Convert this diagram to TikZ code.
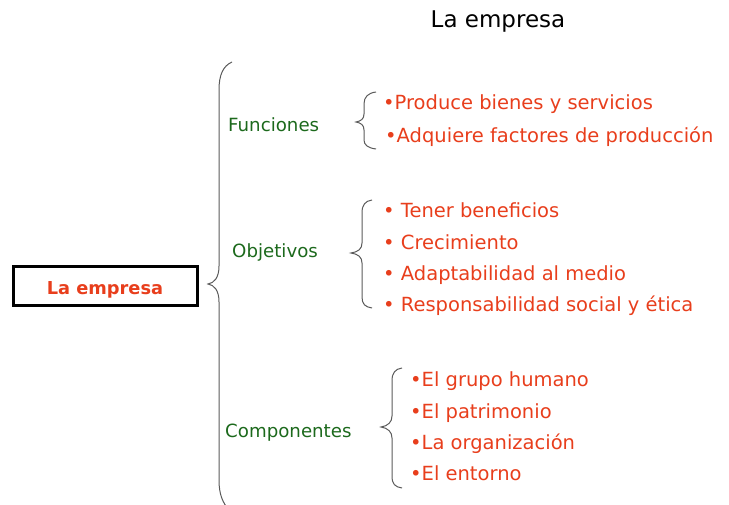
\documentclass[tikz,border=0pt]{standalone}
\usepackage{fontspec}
\setmainfont{DejaVu Sans}
\definecolor{itemred}{RGB}{232,62,28}
\definecolor{labgreen}{RGB}{28,105,28}
\definecolor{bracegray}{RGB}{90,90,90}
\begin{document}
\begin{tikzpicture}[x=1pt,y=-1pt,
  item/.style={anchor=base west,inner sep=0pt,text=itemred,font=\fontsize{19.5}{19.5}\selectfont},
  lab/.style={anchor=base west,inner sep=0pt,text=labgreen,font=\fontsize{18.2}{18.2}\selectfont},
  brc/.style={draw=bracegray,line width=1pt}]
\useasboundingbox (0,0) rectangle (729,505);
\node[anchor=base,inner sep=0pt,font=\fontsize{23}{23}\selectfont] (title) at (498,28) {La empresa};
\node[draw=black,line width=3pt,minimum width=184pt,minimum height=39pt,inner sep=0pt] (box) at (105,286.5) {};
\node[anchor=base,inner sep=0pt,text=itemred,font=\fontsize{17.8}{17.8}\selectfont\bfseries] (boxtext) at (105,295) {La empresa};
% big brace
\draw[brc] (232,62) .. controls (223,66) and (219,75) .. (219,90) -- (219,266)
  .. controls (219,278) and (214,283) .. (208,284)
  .. controls (214,285) and (219,290) .. (219,302) -- (219,480)
  .. controls (219,495) and (223,503) .. (229,510);
\node[lab] (fun) at (228,132) {Funciones};
\node[lab] (obj) at (232,258) {Objetivos};
\node[lab] (com) at (225,437) {Componentes};
% Funciones brace
\draw[brc] (376,92) .. controls (368,93) and (364,97) .. (364,104) -- (364,114)
  .. controls (364,119) and (361,121) .. (356,122)
  .. controls (361,123) and (364,125) .. (364,130) -- (364,140)
  .. controls (364,145) and (368,148) .. (376,149);
\node[item] (f1) at (383,110) {•Produce bienes y servicios};
\node[item] (f2) at (385,143) {•Adquiere factores de producción};
% Objetivos brace
\draw[brc] (372,200) .. controls (365,201) and (362,205) .. (362,213) -- (362,243)
  .. controls (362,249) and (358,252) .. (351,253)
  .. controls (358,254) and (362,257) .. (362,263) -- (362,297)
  .. controls (362,304) and (365,307) .. (372,308);
\node[item] (o1) at (383,218) {• Tener beneficios};
\node[item] (o2) at (383,250) {• Crecimiento};
\node[item] (o3) at (383,281) {• Adaptabilidad al medio};
\node[item] (o4) at (383,312) {• Responsabilidad social y ética};
% Componentes brace
\draw[brc] (402,368) .. controls (395,369) and (392,373) .. (392,381) -- (392,416)
  .. controls (392,422) and (388,426) .. (381,427)
  .. controls (388,428) and (392,432) .. (392,438) -- (392,476)
  .. controls (392,484) and (395,487) .. (402,488);
\node[item] (c1) at (410,387) {•El grupo humano};
\node[item] (c2) at (410,418) {•El patrimonio};
\node[item] (c3) at (410,449) {•La organización};
\node[item] (c4) at (410,480) {•El entorno};
\end{tikzpicture}
\end{document}
